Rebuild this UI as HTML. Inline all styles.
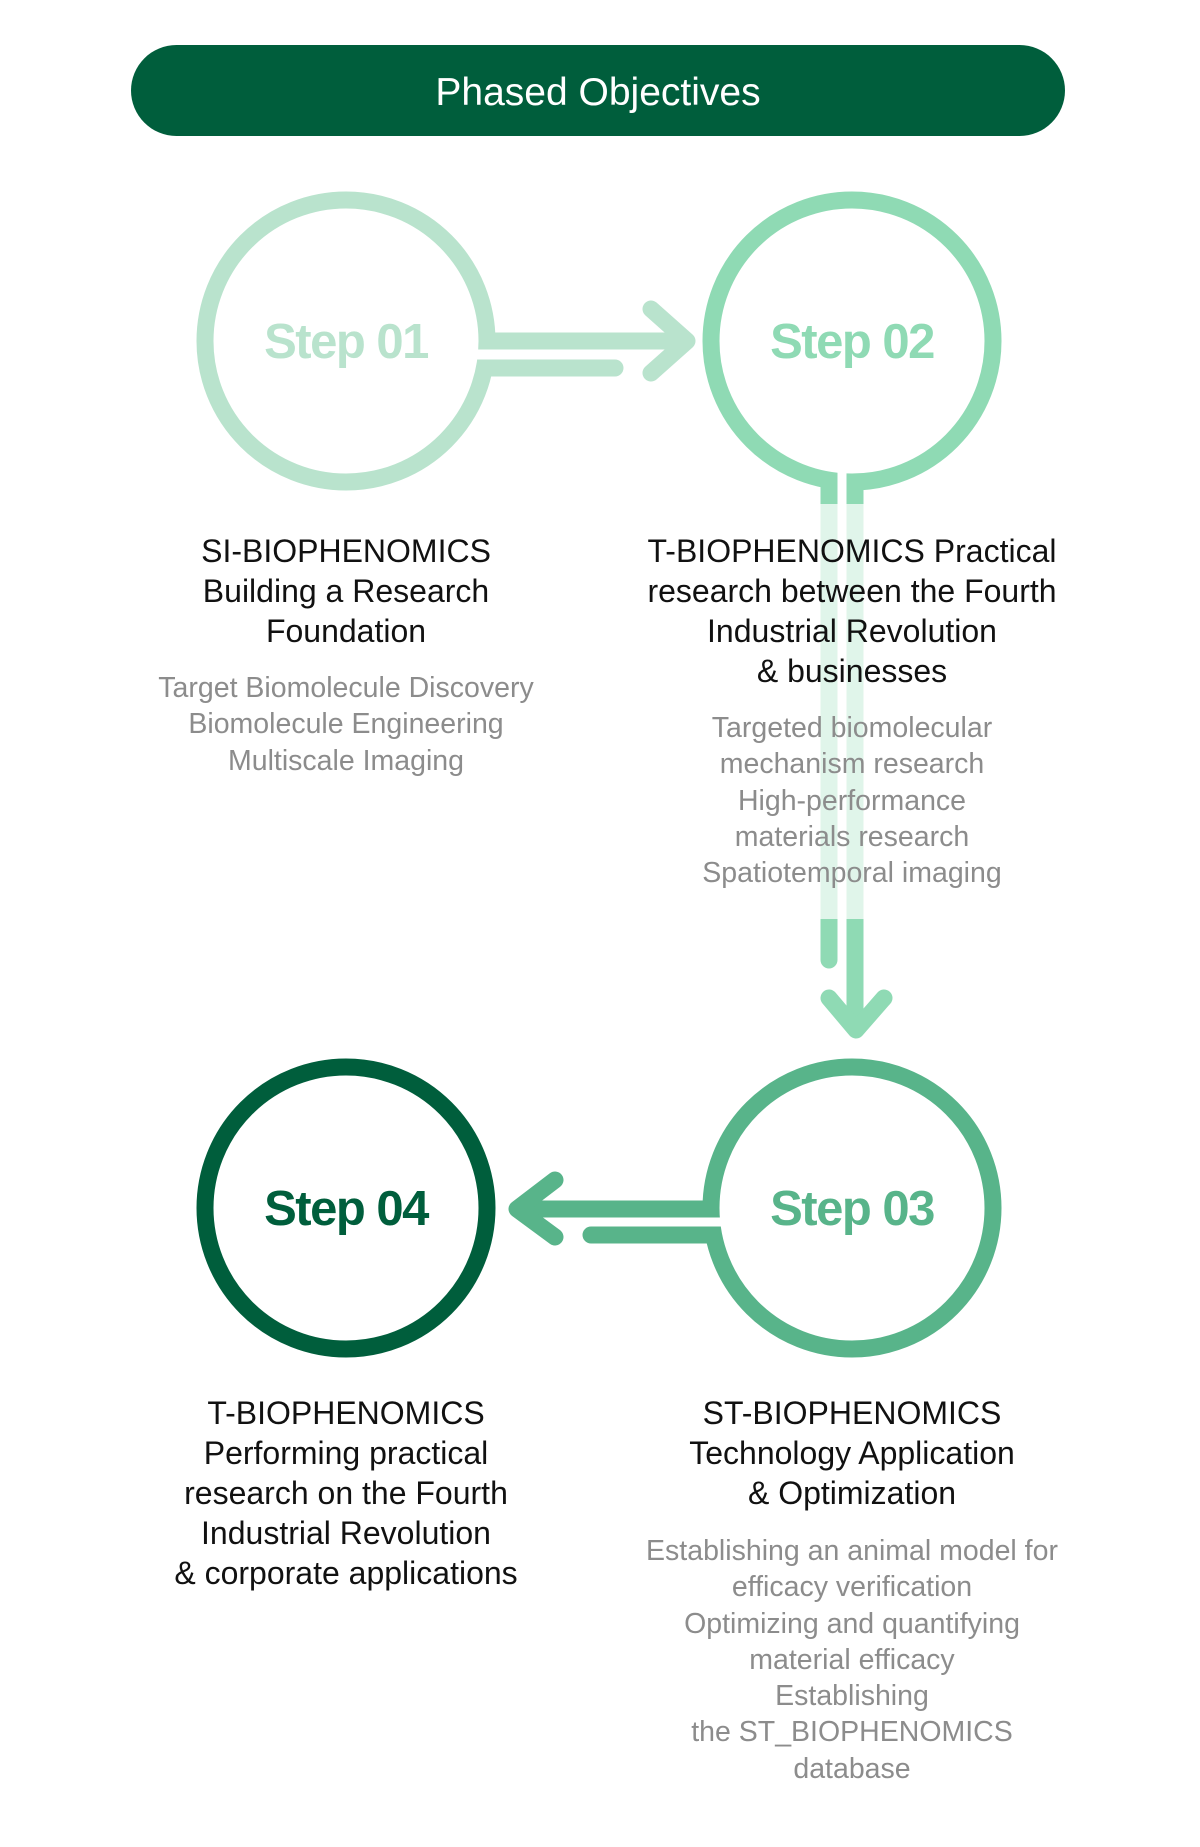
<!DOCTYPE html>
<html><head><meta charset="utf-8"><style>
body{margin:0;background:#fff;}
#w{position:relative;width:1200px;height:1847px;overflow:hidden;font-family:"Liberation Sans",sans-serif;}
.t{position:absolute;width:600px;text-align:center;}
.h{font-size:32px;line-height:40px;color:#111;}
.g{font-size:28.5px;line-height:36.3px;color:#8c8c8c;}
svg{position:absolute;left:0;top:0;}
</style></head><body><div id="w">
<svg width="1200" height="1847" viewBox="0 0 1200 1847">
<g transform="translate(3,0)">
<rect x="128" y="45" width="934" height="91" rx="45.5" fill="#005e3c"/>
<text x="595" y="105" text-anchor="middle" font-family="Liberation Sans" font-size="39" fill="#fff">Phased Objectives</text>
<g fill="#fff" stroke-width="17">
<circle cx="343" cy="341" r="141" stroke="#b9e3cd"/>
<circle cx="849" cy="341" r="141" stroke="#8fdab4"/>
<circle cx="849" cy="1208" r="141" stroke="#58b48a"/>
<circle cx="343" cy="1208" r="141" stroke="#005e3c"/>
</g>
<g stroke-width="17" fill="none" stroke="#8fdab4">
<line x1="826" y1="478" x2="826" y2="960"/>
<line x1="852" y1="478" x2="852" y2="1026"/>
<polyline points="826,998 853,1030 881,998" stroke-linejoin="round" stroke-linecap="round"/>
</g>
<circle cx="826" cy="960" r="8.5" fill="#8fdab4"/>
<rect x="834.5" y="470" width="9" height="30" fill="#fff"/>
<rect x="817.5" y="504" width="17" height="415" fill="#e0f5ea"/>
<rect x="843.5" y="504" width="17" height="415" fill="#e0f5ea"/>
<g stroke="#b9e3cd" stroke-width="17" fill="none">
<line x1="478" y1="341" x2="682" y2="341"/>
<line x1="478" y1="368" x2="612" y2="368"/>
<polyline points="648,309 684,341 648,373" stroke-linecap="round" stroke-linejoin="round"/>
</g>
<circle cx="612" cy="368" r="8.5" fill="#b9e3cd"/>
<rect x="470" y="349.5" width="30" height="10" fill="#fff"/>
<g stroke="#58b48a" stroke-width="17" fill="none">
<line x1="712" y1="1209" x2="516" y2="1209"/>
<line x1="712" y1="1235" x2="588" y2="1235"/>
<polyline points="552,1180 514,1209 552,1237" stroke-linecap="round" stroke-linejoin="round"/>
</g>
<circle cx="588" cy="1235" r="8.5" fill="#58b48a"/>
<rect x="692" y="1217.5" width="30" height="9" fill="#fff"/>
<g font-family="Liberation Sans" font-weight="bold" font-size="49" text-anchor="middle" letter-spacing="-1.5">
<text x="343" y="358" fill="#b9e3cd">Step 01</text>
<text x="849" y="358" fill="#8fdab4">Step 02</text>
<text x="849" y="1225" fill="#58b48a">Step 03</text>
<text x="343" y="1225" fill="#005e3c">Step 04</text>
</g>
</g>
</svg>
<div class="t h" style="left:46px;top:531px">SI-BIOPHENOMICS<br>Building a Research<br>Foundation</div>
<div class="t g" style="left:46px;top:670px">Target Biomolecule Discovery<br>Biomolecule Engineering<br>Multiscale Imaging</div>
<div class="t h" style="left:552px;top:531px">T-BIOPHENOMICS Practical<br>research between the Fourth<br>Industrial Revolution<br>&amp; businesses</div>
<div class="t g" style="left:552px;top:710px">Targeted biomolecular<br>mechanism research<br>High-performance<br>materials research<br>Spatiotemporal imaging</div>
<div class="t h" style="left:46px;top:1393px">T-BIOPHENOMICS<br>Performing practical<br>research on the Fourth<br>Industrial Revolution<br>&amp; corporate applications</div>
<div class="t h" style="left:552px;top:1393px">ST-BIOPHENOMICS<br>Technology Application<br>&amp; Optimization</div>
<div class="t g" style="left:552px;top:1533px">Establishing an animal model for<br>efficacy verification<br>Optimizing and quantifying<br>material efficacy<br>Establishing<br>the ST_BIOPHENOMICS<br>database</div>
</div></body></html>
